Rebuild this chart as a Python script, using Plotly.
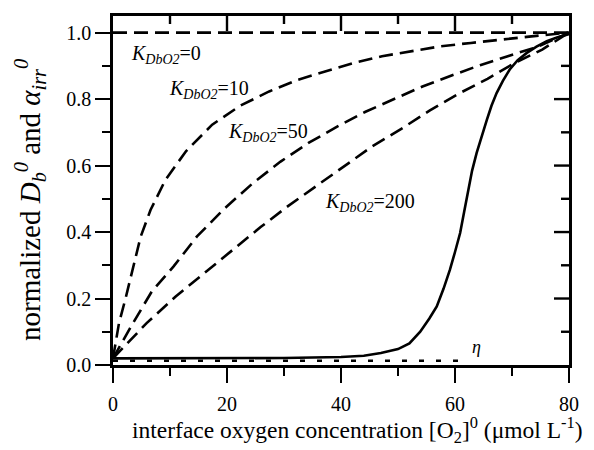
import plotly.graph_objects as go

# ---- data ----
k0_x = [0, 80]
k0_y = [1.0, 1.0]

k10_x = [0, 1.05, 2.2, 3.6, 4.85, 6.6, 9.2, 12.8, 17.4, 22.3, 27.4, 32.4, 37.2, 42.3, 47.2, 52.4, 57.5, 62.8, 67.9, 73.0, 80]
k10_y = [0.02, 0.126, 0.20, 0.296, 0.386, 0.467, 0.557, 0.643, 0.723, 0.78, 0.823, 0.858, 0.883, 0.909, 0.929, 0.944, 0.959, 0.969, 0.979, 0.988, 1.0]

k50_x = [0, 3.3, 6.8, 10.6, 14.7, 19.5, 24.6, 29.4, 34.3, 39.4, 44.3, 49.3, 54.3, 59.4, 64.4, 69.4, 74.4, 80]
k50_y = [0.02, 0.12, 0.221, 0.296, 0.386, 0.47, 0.548, 0.612, 0.668, 0.718, 0.762, 0.801, 0.838, 0.871, 0.902, 0.93, 0.957, 1.0]

k200_x = [0, 5.9, 11, 16, 20.9, 25.9, 30.7, 35.6, 40.5, 45.5, 50.8, 55.6, 60.6, 65.7, 70.5, 75.3, 80]
k200_y = [0.02, 0.126, 0.206, 0.276, 0.346, 0.415, 0.478, 0.537, 0.597, 0.658, 0.713, 0.766, 0.816, 0.861, 0.909, 0.949, 1.0]

alpha_x = [0, 10, 20, 30, 40, 44, 47, 50, 52, 53.9, 55.5, 56.8, 58, 59.1, 60, 60.9, 61.6, 62.3, 63, 63.8,
           64.7, 65.6, 66.4, 67.3, 68.4, 69.6, 71, 72.6, 74.3, 76.1, 78, 80]
alpha_y = [0.02, 0.02, 0.02, 0.021, 0.024, 0.028, 0.036, 0.048, 0.065, 0.1, 0.14, 0.176, 0.23, 0.286, 0.34, 0.397,
           0.46, 0.527, 0.585, 0.638, 0.69, 0.738, 0.78, 0.818, 0.855, 0.889, 0.917, 0.939, 0.958, 0.974, 0.986, 0.995]

eta_x = [0, 62.3]
eta_y = [0.013, 0.013]

labels = ["=0", "=10", "=50", "=200"]
label_x = [2.8, 9.4, 19.9, 36.8]
label_y = [0.934, 0.828, 0.699, 0.488]

x_ticks = [0, 20, 40, 60, 80]
x_minor = [10, 30, 50, 70]
y_ticks = [0.0, 0.2, 0.4, 0.6, 0.8, 1.0]
y_minor = [0.1, 0.3, 0.5, 0.7, 0.9]

x_title = "interface oxygen concentration [O<sub>2</sub>]<sup>0</sup> (μmol L<sup>-1</sup>)"
y_title = "normalized <i>D</i><sub><i>b</i></sub><sup><i>0</i></sup> and <i>α</i><sub><i>irr</i></sub><sup><i>0</i></sup>"

FONT = "Liberation Serif, 'Times New Roman', Times, serif"
DASH = "14px,7px"
LW = 2.6
W, H = 594, 450
ML, MR, MT, MB = 113, 25, 16, 85
PW, PH = W - ML - MR, H - MT - MB
MAJ, MIN = 15, 8

fig = go.Figure()
for xs, ys in [(k0_x, k0_y), (k10_x, k10_y), (k50_x, k50_y), (k200_x, k200_y)]:
    fig.add_trace(go.Scatter(x=xs, y=ys, mode="lines",
                             line=dict(color="black", width=LW, dash=DASH), showlegend=False))
fig.add_trace(go.Scatter(x=alpha_x, y=alpha_y, mode="lines",
                         line=dict(color="black", width=LW), showlegend=False))
fig.add_trace(go.Scatter(x=eta_x, y=eta_y, mode="lines",
                         line=dict(color="black", width=LW, dash="5px,12px"), showlegend=False))

for t, lx, ly in zip(labels, label_x, label_y):
    fig.add_annotation(x=lx, y=ly, xref="x", yref="y", xanchor="left", yanchor="middle",
                       text="<i>K</i><sub><i>DbO2</i></sub>" + t, showarrow=False,
                       font=dict(family=FONT, size=20, color="black"))
fig.add_annotation(x=62.7, y=0.055, xref="x", yref="y", xanchor="left", yanchor="middle",
                   text="<i>η</i>", showarrow=False, font=dict(family=FONT, size=18, color="black"))

# axis titles
fig.add_annotation(x=(357 - ML) / PW, y=-(430 - (H - MB)) / PH, xref="paper", yref="paper",
                   xanchor="center", yanchor="middle", text=x_title, showarrow=False,
                   font=dict(family=FONT, size=23.5, color="black"))
fig.add_annotation(x=(30 - ML) / PW, y=((H - MB) - 200) / PH, xref="paper", yref="paper",
                   xanchor="center", yanchor="middle", text=y_title, showarrow=False, textangle=-90,
                   font=dict(family=FONT, size=29, color="black"))

# inward ticks on the top and right frame edges
for v in x_ticks[1:-1] + x_minor:
    ln = MAJ if v in x_ticks else MIN
    fig.add_shape(type="line", xref="x", yref="paper", x0=v, x1=v, y0=1, y1=1 - ln / PH,
                  line=dict(color="black", width=2.4), layer="above")
for v in y_ticks[1:-1] + y_minor:
    ln = MAJ if v in y_ticks else MIN
    fig.add_shape(type="line", xref="paper", yref="y", x0=1, x1=1 - ln / PW, y0=v, y1=v,
                  line=dict(color="black", width=2.4), layer="above")

axis_common = dict(showline=True, mirror=True, linecolor="black", linewidth=2.6, showgrid=False,
                   zeroline=False, tickcolor="black", tickwidth=2.4, ticklen=MAJ, ticks="outside",
                   tickfont=dict(family=FONT, size=20, color="black"))

fig.update_layout(
    width=W, height=H,
    margin=dict(l=ML, r=MR, t=MT, b=MB),
    plot_bgcolor="white", paper_bgcolor="white",
    font=dict(family=FONT, color="black"),
    xaxis=dict(range=[0, 80], tickvals=x_ticks, ticklabelstandoff=4,
               minor=dict(tickvals=x_minor, ticks="outside", ticklen=MIN, tickwidth=2.4, tickcolor="black"),
               **axis_common),
    yaxis=dict(range=[0, 1.05], tickvals=y_ticks, tickformat=".1f",
               minor=dict(tickvals=y_minor, ticks="outside", ticklen=MIN, tickwidth=2.4, tickcolor="black"),
               **axis_common),
)

fig.write_html("out.html")
